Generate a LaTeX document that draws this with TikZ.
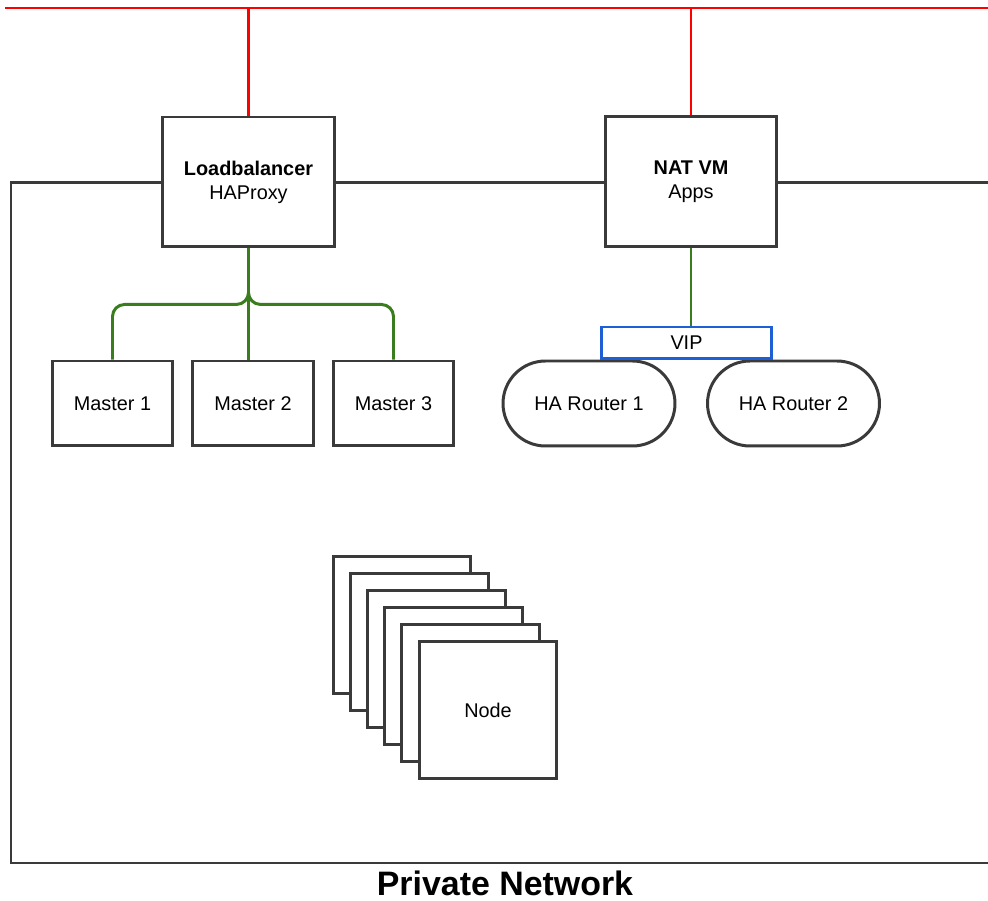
\documentclass[tikz,border=0pt]{standalone}
\usepackage{fontspec}
\setmainfont{Liberation Sans}
\definecolor{linegray}{HTML}{3A3A3A}
\definecolor{wanred}{HTML}{FF0000}
\definecolor{langreen}{HTML}{3A7D1E}
\definecolor{vipblue}{HTML}{1F5FD6}
\begin{document}
\begin{tikzpicture}[x=0.02cm,y=-0.02cm,
  txt/.style={font=\fontsize{11.3}{13.6}\selectfont},
  box/.style={draw=linegray,line width=1.7pt,fill=white,inner sep=0pt,align=center,txt},
  router/.style={box,rounded corners=0.85cm,minimum width=3.44cm,minimum height=1.7cm},
  master/.style={box,minimum width=2.42cm,minimum height=1.7cm},
  vm/.style={box,minimum width=3.43cm,minimum height=2.6cm},
  stackbox/.style={box,minimum width=2.76cm,minimum height=2.76cm},
  wan/.style={wanred,line width=1.6pt},
  lan/.style={langreen,line width=1.7pt},
  net/.style={linegray,line width=1.7pt}]
\useasboundingbox (0,0) rectangle (988,901);
\coordinate (wan west) at (5,8);
\coordinate (wan east) at (988,8);
\coordinate (pn ne) at (988,183);
\coordinate (pn nw) at (11,183);
\coordinate (pn sw) at (11,863);
\coordinate (pn se) at (988,863);
\draw[net] (pn se) -- (pn sw) -- (pn nw) -- (pn ne);
\draw[wan] (wan west) -- (wan east);
\node[vm] (lb) at (248.5,182) {\textbf{Loadbalancer}\\HAProxy};
\node[vm] (nat) at (691,181.5) {\textbf{NAT VM}\\Apps};
\draw[wan] (lb.north |- wan west) -- (lb.north);
\draw[wan] (nat.north |- wan west) -- (nat.north);
\node[master] (m1) at (112.5,403.5) {Master 1};
\node[master] (m2) at (253,403.5) {Master 2};
\node[master] (m3) at (393.5,403.5) {Master 3};
\draw[lan] (lb.south) -- (lb.south |- m2.north);
\draw[lan,rounded corners=0.24cm] (lb.south) -- ++(0,56) -| (m1.north);
\draw[lan,rounded corners=0.24cm] (lb.south) -- ++(0,56) -| (m3.north);
\node[router] (ha1) at (589,403.5) {HA Router 1};
\node[router] (ha2) at (793.5,403.5) {HA Router 2};
\node[box,draw=vipblue,minimum width=3.42cm,minimum height=0.64cm] (vip) at (686.5,343) {VIP};
\draw[lan] (nat.south) -- (nat.south |- vip.north);
\foreach \i in {5,...,1}
  \node[stackbox] (n\i) at ({488-17.2*\i},{710-17*\i}) {};
\node[stackbox] (n0) at (488,710) {Node};
\node[font=\fontsize{19.3}{23}\selectfont\bfseries,inner sep=0pt,anchor=base] (pnlabel) at (505,896) {Private Network};
\end{tikzpicture}
\end{document}
